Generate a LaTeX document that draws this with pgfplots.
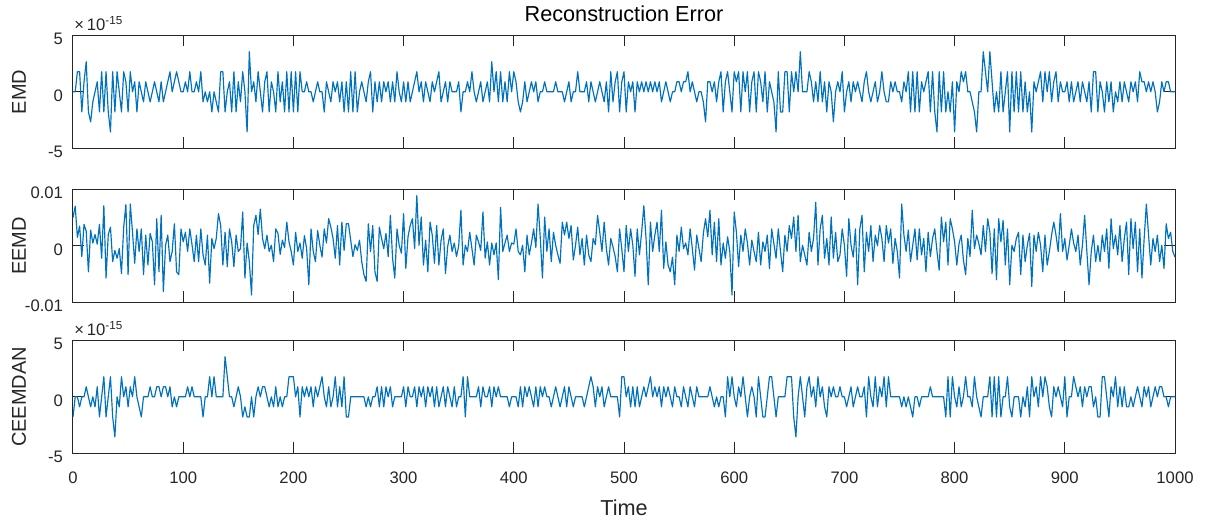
\documentclass[border=0pt]{standalone}
\usepackage{fontspec}
\setmainfont{Liberation Sans}
\usepackage{pgfplots}
\pgfplotsset{compat=1.18}
\definecolor{mblue}{rgb}{0,0.447,0.741}
\definecolor{axgray}{rgb}{0.15,0.15,0.15}
\pgfplotsset{
  mat/.style={
    scale only axis, width=661.2pt, height=67.8pt,
    xmin=0, xmax=1000, xtick={0,100,...,1000},
    clip mode=individual,
    tick pos=both, tick align=inside, major tick length=6.6pt,
    axis line style={axgray, line width=0.6pt},
    tick style={axgray, line width=0.6pt},
    ticklabel style={font=\fontsize{10}{12}\selectfont, text=axgray},
    yticklabel style={xshift=-2.5pt, yshift=-2.2pt},
    xticklabel style={anchor=base, yshift=-18pt},
    /pgf/number format/assume math mode=true,
    /pgf/number format/set thousands separator={},
    every axis y label/.style={at={(axis description cs:-0.049,0.5)}, rotate=90,
      anchor=center, font=\fontsize{12}{14}\selectfont, text=axgray},
    every axis x label/.style={at={(axis description cs:0.5,-0.48)},
      anchor=center, font=\fontsize{13}{15}\selectfont, text=axgray},
  },
  dat/.style={color=mblue, line width=0.7pt, line join=round},
}
\begin{document}
\begin{tikzpicture}
\useasboundingbox (-43.8pt,-40.6pt) rectangle (683.4pt,272pt);

% EMD
\begin{axis}[mat, at={(0pt,183pt)}, anchor=south west,
  ymin=-5, ymax=5, ytick={-5,0,5}, yticklabels={-5,0,5},
  xticklabels={}, ylabel={EMD}]
\addplot[dat] table[row sep=\\, header=false, y index=0, x expr=\coordindex*2] {
0\\0\\1.78\\1.78\\-1.78\\0.89\\2.66\\-1.78\\-2.66\\-0.89\\0\\0.89\\-1.78\\1.78\\-1.78\\1.78\\-1.78\\-3.55\\1.78\\-1.78\\1.78\\0\\-1.78\\1.78\\0.89\\
-1.78\\1.78\\0\\0.89\\-1.78\\0.89\\0\\-0.89\\0.89\\0\\-0.89\\0\\0.89\\0\\-0.89\\0.89\\-0.89\\0\\0.89\\1.78\\0\\0.89\\1.78\\0.89\\0\\
0\\0.89\\0\\1.78\\0\\0\\0.89\\0\\1.78\\-0.89\\0\\-0.89\\0\\-1.78\\0\\-0.89\\-1.78\\1.78\\1.78\\-1.78\\0\\0.89\\-1.78\\1.78\\-1.78\\
0.89\\-0.89\\1.78\\0\\-3.55\\3.55\\0\\0.89\\-0.89\\1.78\\0\\-1.78\\0.89\\1.78\\-1.78\\0.89\\0\\-1.78\\1.78\\-0.89\\0.89\\-1.78\\1.78\\-1.78\\1.78\\
-1.78\\1.78\\-1.78\\1.78\\0\\0\\0.89\\0\\0\\-0.89\\0\\0.89\\0\\0\\-1.78\\0.89\\0\\-0.89\\0.89\\0\\0.89\\-0.89\\0.89\\-1.78\\0.89\\
-1.78\\1.78\\-1.78\\1.78\\-1.78\\0\\0.89\\0\\-0.89\\0.89\\1.78\\-1.78\\0.89\\-0.89\\0.89\\-0.89\\0.89\\0\\0.89\\-0.89\\0.89\\-0.89\\1.78\\0\\-0.89\\
0.89\\-0.89\\0.89\\-0.89\\0\\0.89\\1.78\\0\\0.89\\-0.89\\0.89\\0\\-0.89\\0.89\\0\\0.89\\1.78\\-0.89\\0\\0.89\\-0.89\\0.89\\0\\0\\0\\
0.89\\-1.78\\0\\0\\0.89\\0\\1.78\\0\\-0.89\\0\\0.89\\-0.89\\0\\0.89\\-0.89\\2.66\\0\\1.78\\-0.89\\1.78\\-0.89\\0.89\\-0.89\\1.78\\0\\
1.78\\0.89\\-0.89\\-1.78\\-0.89\\0.89\\-0.89\\0\\0.89\\0\\0.89\\-0.89\\0\\0\\0.89\\0\\0\\0\\0\\0.89\\0\\0\\0\\-0.89\\0\\
0.89\\-0.89\\0\\0\\1.78\\0\\0\\0\\0.89\\-0.89\\0.89\\0\\-0.89\\0\\0.89\\0\\-0.89\\0.89\\-1.78\\1.78\\-0.89\\0.89\\1.78\\-1.78\\0.89\\
1.78\\-1.78\\0.89\\0\\0.89\\-1.78\\0.89\\0\\0.89\\0\\0.89\\0\\0.89\\0\\0.89\\0\\0.89\\-0.89\\0\\0.89\\0\\-0.89\\0\\0\\0.89\\
0.89\\0\\0.89\\0.89\\1.78\\0\\0.89\\0\\-0.89\\0\\0\\-0.89\\-2.66\\0.89\\0.89\\0\\0.89\\-0.89\\0.89\\1.78\\-1.78\\0.89\\1.78\\0\\-1.78\\
1.78\\0.89\\1.78\\-1.78\\1.78\\0\\1.78\\-1.78\\0.89\\1.78\\-1.78\\1.78\\0.89\\-0.89\\1.78\\-1.78\\0.89\\0\\-0.89\\-3.55\\1.78\\-1.78\\-1.78\\1.78\\1.78\\
-1.78\\1.78\\0\\1.78\\0\\3.55\\0\\0\\0\\1.78\\0.89\\-0.89\\0.89\\-0.89\\1.78\\-0.89\\0.89\\-1.78\\0.89\\0\\-2.66\\0\\0.89\\0\\1.78\\
-1.78\\0\\0.89\\-0.89\\0.89\\0\\0.89\\0\\-0.89\\0.89\\1.78\\0\\-0.89\\0\\0.89\\-0.89\\0\\1.78\\0\\-0.89\\-0.89\\0.89\\0\\0.89\\0\\
0\\-0.89\\0.89\\0\\1.78\\-1.78\\1.78\\-1.78\\1.78\\-1.78\\0.89\\0\\0.89\\1.78\\-1.78\\1.78\\-1.78\\-3.55\\1.78\\-1.78\\1.78\\-1.78\\0\\-1.78\\0.89\\
-3.55\\0.89\\0\\1.78\\0.89\\1.78\\0\\0\\-0.89\\-1.78\\-3.55\\0\\0\\3.55\\1.78\\0\\3.55\\0.89\\-1.78\\0\\-1.78\\1.78\\-1.78\\0\\1.78\\
-3.55\\1.78\\-1.78\\1.78\\-1.78\\1.78\\-1.78\\0.89\\-1.78\\0\\-3.55\\0.89\\0\\0.89\\1.78\\-0.89\\1.78\\0\\1.78\\-0.89\\0.89\\1.78\\-0.89\\0.89\\0\\
0\\0.89\\-0.89\\0.89\\-0.89\\0\\0.89\\-0.89\\0.89\\0\\-0.89\\0.89\\-1.78\\1.78\\1.78\\-1.78\\0.89\\0\\-1.78\\0.89\\-0.89\\0.89\\-1.78\\0\\-0.89\\
0.89\\-0.89\\0.89\\0\\-0.89\\0.89\\0\\0.89\\-0.89\\1.78\\0.89\\0.89\\0\\0.89\\0\\0.89\\0\\-1.78\\-0.89\\0.89\\0\\0.89\\0.89\\0\\0\\0\\
};
\node[anchor=base west, inner sep=0pt, font=\fontsize{10}{12}\selectfont, text=axgray]
  at (axis description cs:0.001,1.045) {×\,10\textsuperscript{-15}};
\node[font=\fontsize{13}{15}\selectfont] at (axis description cs:0.5,1.19) {Reconstruction Error};
\end{axis}

% EEMD (values in units of 0.001)
\begin{axis}[mat, at={(0pt,90.6pt)}, anchor=south west,
  ymin=-10, ymax=10, ytick={-10,0,10}, yticklabels={-0.01,0,0.01},
  xticklabels={}, ylabel={EEMD}]
\addplot[dat] table[row sep=\\, header=false, y index=0, x expr=\coordindex*2] {
5.0\\7.0\\1.5\\3.5\\-1.9\\3.8\\2.6\\-4.6\\2.8\\0.5\\2.0\\0.3\\3.8\\-2.2\\7.1\\-5.7\\2.0\\3.3\\-2.8\\-0.8\\-2.2\\-0.5\\-4.9\\3.3\\7.3\\
-5.1\\7.4\\2.4\\-3.1\\3.0\\-1.0\\3.0\\-5.1\\1.9\\-3.4\\2.2\\0.7\\-6.9\\4.8\\-4.6\\5.4\\-8.1\\0.1\\1.9\\-2.8\\-1.0\\3.9\\-4.6\\-5.1\\3.0\\
0.7\\2.4\\-1.0\\3.0\\0.2\\-2.8\\1.9\\-2.8\\3.0\\-1.6\\-3.4\\1.9\\-6.6\\1.3\\-0.5\\1.3\\5.7\\3.6\\-3.4\\2.4\\-3.7\\3.0\\0.7\\-3.7\\1.9\\
-1.0\\-0.5\\6.0\\-5.7\\0.5\\-2.8\\-8.7\\3.6\\5.4\\2.0\\6.5\\1.3\\-0.5\\1.9\\-1.0\\0.1\\-2.8\\3.0\\2.2\\-1.5\\1.0\\-0.3\\4.2\\0.7\\-1.0\\
-3.4\\2.4\\-1.0\\0.5\\-2.2\\1.8\\-0.5\\-6.9\\3.0\\-1.0\\-2.8\\2.7\\0.1\\-2.0\\3.0\\0.5\\4.8\\3.3\\1.3\\-2.2\\3.6\\-3.4\\4.2\\-0.8\\3.9\\
3.9\\1.0\\-1.9\\0.2\\-0.8\\1.0\\-2.8\\-5.1\\-6.3\\3.9\\-1.0\\3.6\\-4.6\\-6.3\\3.3\\1.3\\-0.5\\2.2\\-1.9\\5.4\\-2.2\\-5.7\\3.0\\0.1\\-1.3\\
5.7\\-4.0\\1.6\\3.6\\4.8\\-0.5\\8.9\\0.1\\5.1\\-3.4\\1.0\\-4.6\\4.2\\1.9\\-3.1\\3.6\\-3.4\\1.0\\3.0\\-4.9\\-0.1\\1.9\\-1.0\\0.5\\-1.9\\
0.0\\6.3\\-3.4\\0.1\\-1.0\\2.4\\-0.5\\-3.4\\1.9\\0.7\\-0.8\\6.0\\-2.2\\0.7\\-3.4\\0.5\\-1.6\\0.5\\-6.0\\6.8\\-1.0\\0.5\\1.9\\-1.0\\0.5\\
0.3\\3.0\\-1.0\\-1.6\\0.1\\-4.6\\1.9\\-1.6\\0.5\\3.0\\-0.3\\7.4\\1.5\\-5.7\\5.1\\-1.0\\3.0\\-2.8\\2.4\\0.1\\-1.6\\-3.1\\4.2\\1.9\\4.2\\
1.3\\3.6\\-2.5\\0.1\\3.3\\-1.6\\1.3\\-3.4\\1.9\\-1.6\\-2.8\\1.3\\0.2\\5.4\\2.4\\-1.0\\4.2\\-0.5\\-3.4\\1.3\\-0.2\\-1.9\\-4.6\\3.0\\-0.6\\
-4.6\\3.6\\-1.0\\3.0\\0.1\\-5.4\\3.0\\-1.6\\2.4\\7.1\\1.3\\-6.9\\4.2\\-1.0\\1.9\\4.2\\-1.0\\6.3\\-4.0\\0.7\\-3.4\\-4.6\\-2.0\\-6.9\\1.9\\
-1.0\\3.3\\-0.5\\0.5\\-1.6\\3.0\\-0.5\\-4.3\\1.9\\-0.5\\-2.8\\2.2\\4.8\\1.6\\6.3\\-1.6\\4.2\\-2.8\\4.8\\-3.4\\0.5\\-2.2\\1.6\\-1.0\\-8.7\\
6.0\\2.4\\-3.7\\1.9\\-1.0\\3.0\\0.5\\-3.4\\1.0\\-1.0\\-2.8\\2.4\\-3.4\\0.7\\-1.0\\1.9\\-4.0\\3.0\\0.4\\-2.2\\3.0\\-1.0\\-4.6\\1.9\\-1.0\\
3.6\\1.3\\5.1\\-1.0\\5.4\\-2.8\\0.1\\-1.6\\-3.4\\2.4\\-1.0\\1.3\\7.7\\-3.4\\3.0\\5.4\\-2.2\\1.3\\-3.4\\5.1\\-2.2\\2.4\\-2.8\\-1.6\\3.0\\
0.1\\-5.4\\4.8\\0.1\\-2.0\\3.0\\-6.9\\3.0\\5.4\\-4.6\\2.4\\-1.0\\3.6\\-2.8\\1.9\\0.0\\3.6\\1.3\\-2.8\\3.6\\0.5\\3.0\\-3.1\\1.3\\-1.0\\
-5.7\\7.4\\1.9\\-1.0\\2.8\\-2.8\\0.1\\3.0\\-2.5\\3.0\\-1.6\\1.3\\-4.6\\2.4\\-1.9\\1.3\\3.0\\-1.0\\-4.3\\5.1\\0.7\\4.2\\-3.4\\4.8\\3.0\\
0.7\\-3.4\\0.4\\1.9\\-2.5\\-5.1\\1.3\\-1.9\\6.3\\-0.5\\1.9\\0.4\\-1.6\\3.6\\-1.0\\4.8\\2.4\\-4.9\\3.0\\-6.0\\4.8\\0.7\\4.5\\-3.4\\3.0\\
-6.9\\0.1\\-1.0\\1.3\\2.4\\-5.1\\1.9\\-2.8\\0.1\\2.2\\-7.2\\1.9\\-1.0\\2.4\\0.1\\-4.6\\1.9\\-3.4\\-1.0\\1.9\\4.2\\1.9\\-1.0\\5.7\\-1.0\\
1.3\\-2.5\\0.1\\3.0\\0.5\\-1.0\\1.9\\-3.4\\0.1\\5.4\\-1.0\\-6.9\\-1.0\\1.9\\-2.8\\0.1\\-2.8\\1.9\\-1.0\\3.0\\-4.0\\4.8\\-0.5\\1.9\\-1.6\\
3.6\\-2.8\\1.3\\4.2\\-5.1\\4.8\\-0.5\\4.2\\-4.6\\3.0\\-5.7\\1.3\\7.4\\1.9\\-3.4\\1.3\\-1.0\\1.9\\-2.8\\0.1\\-4.0\\3.9\\1.3\\2.4\\-1.0\\-2.0\\
};
\end{axis}

% CEEMDAN
\begin{axis}[mat, at={(0pt,0pt)}, anchor=south west,
  ymin=-5, ymax=5, ytick={-5,0,5}, yticklabels={-5,0,5},
  ylabel={CEEMDAN}, xlabel={Time}]
\addplot[dat] table[row sep=\\, header=false, y index=0, x expr=\coordindex*2] {
-1.78\\0\\0\\-0.89\\0\\0\\0.89\\0\\-0.89\\0\\-0.89\\0.89\\-1.78\\0\\1.78\\-1.78\\0\\1.78\\-1.78\\-3.55\\0\\-0.89\\1.78\\0\\0.89\\
-0.89\\0.89\\0\\1.78\\0\\-0.89\\-1.78\\0\\0\\0\\0.89\\0\\0\\0.89\\0.89\\0\\0.89\\0.89\\0\\0.89\\-0.89\\0\\-0.89\\0\\0\\
0\\0\\0.89\\0\\0.89\\0\\0\\0\\0\\-1.78\\0\\0\\1.78\\0\\1.78\\0\\0\\0\\0\\3.55\\1.78\\0\\0\\-0.89\\0\\
0.89\\0\\-1.78\\-0.89\\-1.78\\-1.78\\0\\-1.78\\0\\0.89\\0\\0.89\\0.89\\0\\-0.89\\0\\-0.89\\0.89\\-0.89\\0\\-0.89\\0\\0\\1.78\\1.78\\
1.78\\0\\0.89\\-1.78\\0.89\\0\\0.89\\0\\0.89\\-0.89\\0.89\\0\\0.89\\1.78\\0\\-0.89\\0.89\\-0.89\\0\\1.78\\-0.89\\0.89\\-0.89\\1.78\\-1.78\\
-1.78\\0\\0\\0\\0\\0\\0\\0\\-0.89\\0\\-0.89\\0\\0\\0.89\\-0.89\\0.89\\-0.89\\0.89\\0\\0.89\\-0.89\\0\\0\\0\\0\\
0.89\\-0.89\\0.89\\0\\0\\0.89\\-0.89\\0.89\\0\\0.89\\-0.89\\0.89\\0\\0.89\\-0.89\\0.89\\-0.89\\0\\0.89\\-0.89\\0.89\\0\\-0.89\\0.89\\-0.89\\
0\\0\\1.78\\-1.78\\1.78\\0\\0\\0\\0\\0.89\\-0.89\\0.89\\0\\0\\0.89\\-0.89\\0.89\\0\\0.89\\0\\0\\0\\0\\-0.89\\0\\
0\\0\\-0.89\\0.89\\-0.89\\0.89\\0\\0.89\\0\\-0.89\\0.89\\-0.89\\0.89\\0\\0.89\\0\\0\\-0.89\\0\\0.89\\0\\-0.89\\0\\0.89\\-0.89\\
0.89\\0\\-0.89\\0\\0\\0\\0\\-0.89\\0\\0.89\\1.78\\0.89\\-0.89\\0.89\\0\\0.89\\-0.89\\0\\0.89\\0\\0\\0\\0\\-1.78\\1.78\\
1.78\\0\\0.89\\-0.89\\0.89\\-0.89\\0.89\\-0.89\\0\\0.89\\0\\0.89\\1.78\\0\\0.89\\0\\0.89\\-0.89\\0.89\\0\\0.89\\0\\-0.89\\0.89\\0\\
0\\-0.89\\0.89\\0\\-0.89\\0.89\\0\\-0.89\\0.89\\0\\0\\0\\0\\0\\0.89\\0\\-0.89\\0\\-0.89\\0\\0\\-1.78\\1.78\\0\\1.78\\
0\\-0.89\\0.89\\0\\1.78\\0\\-1.78\\0\\0.89\\0\\-1.78\\1.78\\0\\-1.78\\-1.78\\0\\1.78\\1.78\\0\\-1.78\\0\\0\\0\\0\\1.78\\
1.78\\1.78\\-1.78\\-3.55\\0\\1.78\\0\\-1.78\\0.89\\1.78\\0\\0.89\\-0.89\\1.78\\0\\0.89\\-0.89\\-1.78\\0.89\\0\\0.89\\0\\0\\0.89\\0\\
0\\-0.89\\0\\0.89\\-0.89\\0\\0.89\\0\\0\\0.89\\-1.78\\1.78\\0\\-0.89\\1.78\\-0.89\\0.89\\0\\1.78\\-0.89\\1.78\\0\\0\\0\\0\\
0\\-0.89\\0\\-0.89\\0\\-0.89\\-1.78\\0\\0\\-0.89\\0\\0\\0\\0\\0.89\\0\\0\\0\\0\\0\\0\\-1.78\\1.78\\-1.78\\1.78\\
0\\-0.89\\0.89\\-0.89\\0\\1.78\\0\\0\\-0.89\\1.78\\0\\-0.89\\-1.78\\0\\0\\0\\1.78\\-1.78\\1.78\\-1.78\\1.78\\-1.78\\0\\0\\1.78\\
-0.89\\-1.78\\0\\0\\0\\-1.78\\0\\-0.89\\0.89\\-1.78\\1.78\\0\\0.89\\-0.89\\1.78\\0\\1.78\\0.89\\-0.89\\-1.78\\0.89\\0\\0.89\\0\\-0.89\\
1.78\\-1.78\\0\\0\\1.78\\0.89\\0\\0.89\\-0.89\\0.89\\0\\0.89\\0.89\\-0.89\\0\\-1.78\\-1.78\\1.78\\1.78\\0\\-1.78\\0.89\\0\\1.78\\-0.89\\
0.89\\-0.89\\0.89\\-0.89\\-0.89\\0\\-0.89\\0\\0.89\\0\\-0.89\\0.89\\0\\0.89\\-0.89\\0\\0.89\\0\\0.89\\0.89\\0\\0\\-0.89\\0\\0\\0\\
};
\node[anchor=base west, inner sep=0pt, font=\fontsize{10}{12}\selectfont, text=axgray]
  at (axis description cs:0.001,1.045) {×\,10\textsuperscript{-15}};
\end{axis}
\end{tikzpicture}
\end{document}
